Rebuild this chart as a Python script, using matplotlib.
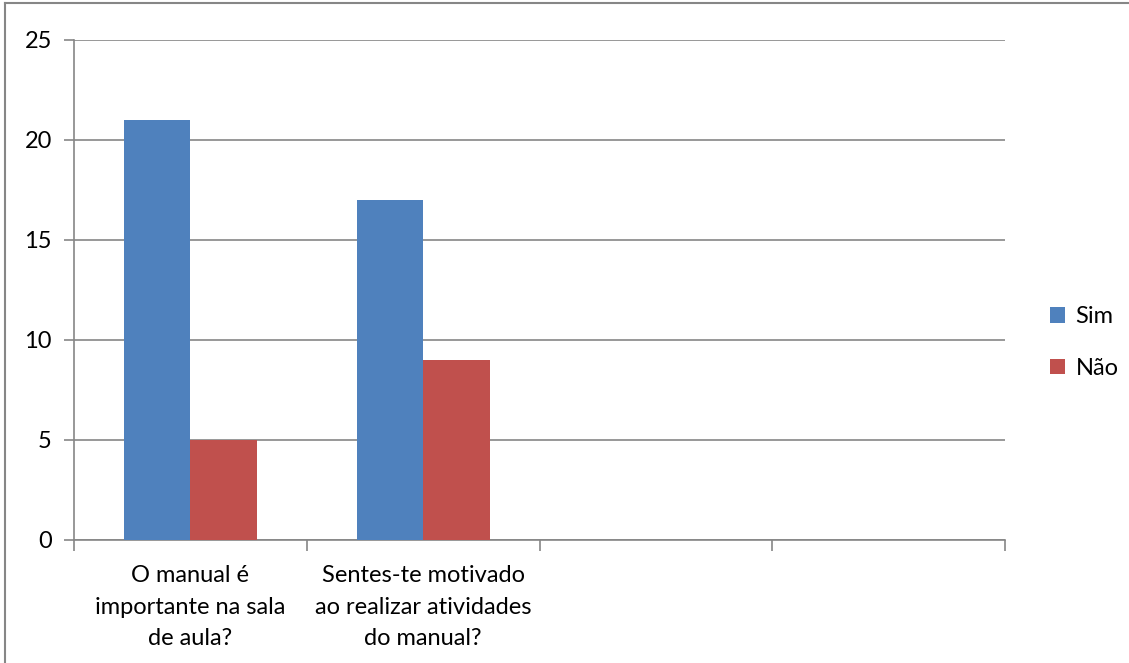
import numpy as np
import matplotlib.pyplot as plt
from matplotlib.lines import Line2D

categorias = ['O manual é\nimportante na sala\nde aula?',
              'Sentes-te motivado\nao realizar atividades\ndo manual?',
              '', '']
sim = [21, 17, np.nan, np.nan]
nao = [5, 9, np.nan, np.nan]

plt.rcParams['font.family'] = ['Lato', 'DejaVu Sans']
azul = '#4F81BD'
vermelho = '#C0504D'
cinza = '#868686'

W, H = 1129, 663
fig = plt.figure(figsize=(W / 100, H / 100), dpi=100)
ax = fig.add_axes([74 / W, 1 - 540 / H, (1005 - 74) / W, 500 / H])

x = np.arange(len(categorias))
w = 2 / 7
ax.bar(x - w / 2, sim, w, color=azul, label='Sim', zorder=3)
ax.bar(x + w / 2, nao, w, color=vermelho, label='Não', zorder=3)

ax.set_xlim(-0.5, len(categorias) - 0.5)
ax.set_ylim(0, 25)
ax.set_yticks(np.arange(0, 26, 5))
ax.yaxis.grid(True, color=cinza, linewidth=1.2, zorder=0)

# ticks nos limites das categorias, rótulos no centro
ax.set_xticks(np.arange(len(categorias) + 1) - 0.5)
ax.set_xticklabels([])
ax.set_xticks(x, minor=True)
ax.set_xticklabels(categorias, minor=True, fontsize=17, linespacing=1.62)
ax.tick_params(axis='x', which='major', length=8, color=cinza, width=1.2)
ax.tick_params(axis='x', which='minor', length=0, pad=18)
ax.tick_params(axis='y', length=7, color=cinza, width=1.2, labelsize=17, pad=9)

for s in ['top', 'right']:
    ax.spines[s].set_visible(False)
for s in ['left', 'bottom']:
    ax.spines[s].set_color(cinza)
    ax.spines[s].set_linewidth(1.2)

ax.legend(loc='center left', bbox_to_anchor=(1.025, 0.395), frameon=False,
          fontsize=17, handlelength=0.65, handleheight=0.65, handletextpad=0.45,
          labelspacing=1.3)

# moldura do gráfico
fig.add_artist(Line2D([5 / W, 5 / W], [0, 1 - 3 / H], color=cinza, linewidth=1.5))
fig.add_artist(Line2D([5 / W, 1], [1 - 3 / H, 1 - 3 / H], color=cinza, linewidth=1.5))

fig.savefig('out.png', dpi=100)
